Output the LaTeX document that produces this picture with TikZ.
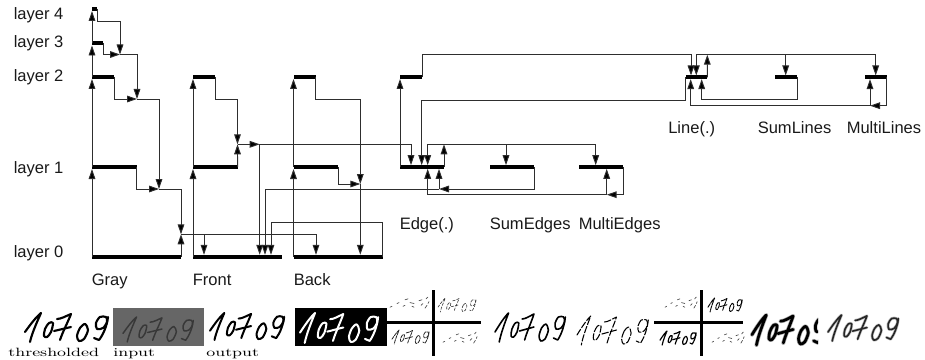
\documentclass[tikz,border=0pt]{standalone}
\usepackage{fontspec}
\newfontfamily\sansf{Liberation Sans}
\usetikzlibrary{arrows.meta}
\tikzset{
  barline/.style={fill=black,draw=none,inner sep=0pt,minimum height=3pt,anchor=west,outer sep=0pt},
  conn/.style={draw=black!82,line width=.72pt,line join=miter},
  arr/.style={conn,-{Triangle[length=7.5pt,width=5pt,fill=black]}},
  lab/.style={font=\sansf\fontsize{12.4}{14}\selectfont,anchor=base west,inner sep=0pt,text=black!90},
  capt/.style={font=\fontsize{9}{10}\selectfont,anchor=base west,inner sep=0pt,xscale=1.45,transform shape},
  crossline/.style={draw=black,line width=2.3pt},
}
\newcommand\handnum[5]{%
 \begin{scope}[shift={(#1,#2)},xscale=#3/85,yscale=#4/29,shift={(-5,-13)},line cap=round,line join=round,#5]
  \draw (5,32) .. controls (10,25) and (16,17) .. (21,13) .. controls (17,22) and (12,33) .. (10,42);
  \draw plot[smooth cycle] coordinates {(33,23)(29,23)(25,29)(24,36)(27,37)(31,32)};
  \draw (37,19) .. controls (41,19) and (46,16) .. (51,14) .. controls (48,22) and (43,31) .. (40,40);
  \draw (34,31) -- (51,27);
  \draw plot[smooth cycle] coordinates {(65,24)(60,28)(57,36)(59,41)(64,39)(68,30)};
  \draw plot[smooth cycle] coordinates {(86,17)(80,17)(76,23)(77,29)(83,28)(87,22)};
  \draw (88,17) .. controls (87,26) and (83,35) .. (79,40) -- (74,38);
 \end{scope}}
\newcommand\dashbits[4]{%
 \begin{scope}[shift={(#1,#2)},xscale=#3/40,yscale=#4/14,line cap=round,draw=black!70,line width=.5pt]
  \draw (0,11)--(2,10) (7,7)--(9,6) (13,10)--(15,9) (15,3)--(18,2) (20,6)--(24,7) (22,10)--(24,11)
        (29,4)--(32,3) (31,9)--(33,7) (36,2)--(38,0) (35,12)--(37,9) (38,7)--(39,5);
 \end{scope}}
\begin{document}
\begin{tikzpicture}[x=.75pt,y=-.75pt]
\useasboundingbox (0,0) rectangle (925,360);
% bars
\node[barline,minimum width=66.75pt] (g0) at (92,256.5) {};
\node[barline,minimum width=33.4pt] (g1) at (92,167) {};
\node[barline,minimum width=16.5pt] (g2) at (92,77) {};
\node[barline,minimum width=8.25pt] (g3) at (92,43.5) {};
\node[barline,minimum width=4pt] (g4) at (92,9) {};
\node[barline,minimum width=66.75pt] (f0) at (193,256.5) {};
\node[barline,minimum width=33.4pt] (f1) at (193,167) {};
\node[barline,minimum width=16.5pt] (f2) at (193,77) {};
\node[barline,minimum width=67pt] (b0) at (293.5,256.5) {};
\node[barline,minimum width=33.4pt] (b1) at (293.5,167) {};
\node[barline,minimum width=16.5pt] (b2) at (293.5,77) {};
\node[barline,minimum width=33pt] (e1) at (400,167) {};
\node[barline,minimum width=16.5pt] (e2) at (400,77) {};
\node[barline,minimum width=33pt] (se) at (490,167) {};
\node[barline,minimum width=33pt] (me) at (579.3,167) {};
\node[barline,minimum width=16.2pt] (l1) at (685.7,77.3) {};
\node[barline,minimum width=16.5pt] (sl) at (775,77.3) {};
\node[barline,minimum width=16.5pt] (ml) at (864.7,77.3) {};
% junctions
\coordinate (a4) at (120,21);
\coordinate (j3) at (120,54.5);
\coordinate (a3) at (137,54.5);
\coordinate (j2) at (137,99);
\coordinate (j1) at (159,189);
\coordinate (j0) at (181,234.3);
\coordinate (frontin) at (204,254.8);
\coordinate (backin) at (316,254.8);
\coordinate (jf) at (237.5,144.3);
\coordinate (cf) at (237.5,99);
\coordinate (k1) at (259.7,144.3);
\coordinate (k1in) at (259.7,254.8);
\coordinate (k2in) at (265,254.8);
\coordinate (k3in) at (271,254.8);
\coordinate (k3top) at (271,222.7);
\coordinate (jb) at (360.3,184);
\coordinate (jbtop) at (360.3,99);
\coordinate (jbin) at (360.3,254.8);
\coordinate (e1a) at (411,165.2);
\coordinate (e1b) at (421.7,165.2);
\coordinate (e1c) at (427.7,165.2);
\coordinate (e1d) at (427.7,168.8);
\coordinate (e1e) at (439,168.8);
\coordinate (jse) at (439,189);
\coordinate (jed) at (444,144.3);
\coordinate (sein) at (506,165.2);
\coordinate (mein) at (595.7,165.2);
\coordinate (jme) at (606.7,194.7);
\coordinate (mefb) at (606.7,168.8);
\coordinate (l1a) at (691,75.5);
\coordinate (l1b) at (696.3,75.5);
\coordinate (l1c) at (690.7,79.1);
\coordinate (l1d) at (701.7,79.1);
\coordinate (jl) at (707.3,54.7);
\coordinate (slin) at (785.7,75.5);
\coordinate (mlin) at (875.7,75.5);
\coordinate (jml) at (870,105.7);
\coordinate (mlfb) at (870,79.1);
\coordinate (slback) at (701.7,99.5);
\coordinate (e2l) at (691,54.7);
\coordinate (l1back) at (421.7,100);
% gray stack
\draw[arr] (g0.west) -- (g1.south west);
\draw[arr] (g1.west) -- (g2.south west);
\draw[arr] (g2.west) -- (g3.south west);
\draw[arr] (g3.west) -- (g4.south west);
\draw[arr] (g4.east) |- (a4) -- (j3);
\draw[arr] (g3.east) |- (j3);
\draw[arr] (j3) -- (a3) -- (j2);
\draw[arr] (g2.east) |- (j2);
\draw[arr] (j2) -| (j1);
\draw[arr] (g1.east) |- (j1);
\draw[arr] (j1) -| (j0);
\draw[arr] (g0.east) -- (j0);
\draw[arr] (j0) -| (backin);
\draw[arr] (j0 -| frontin) -- (frontin);
% front stack
\draw[arr] (f0.west) -- (f1.south west);
\draw[arr] (f1.west) -- (f2.south west);
\draw[arr] (f2.east) |- (cf) -- (jf);
\draw[arr] (f1.east) -- (jf);
\draw[arr] (jf) -- (k1);
\draw[arr] (k1) -- (k1in);
\draw[arr] (k1) -| (e1a);
% back stack
\draw[arr] (b0.west) -- (b1.south west);
\draw[arr] (b1.west) -- (b2.south west);
\draw[arr] (b2.east) |- (jbtop) -- (jb);
\draw[arr] (b1.east) |- (jb);
\draw[arr] (jb) -- (jbin);
\draw[arr] (b0.east) |- (k3top) -- (k3in);
% edge
\draw[arr] (e1.west) -- (e2.south west);
\draw[arr] (e2.east) |- (e2l) -- (l1a);
\draw[arr] (l1.west) |- (l1back) -- (e1b);
\draw[arr] (e1.east) -- (jed);
\draw[arr] (jed) -| (e1c);
\draw[arr] (jed) -| (mein);
\draw[arr] (jed -| sein) -- (sein);
\draw[arr] (se.east) |- (jse);
\draw[arr] (jse) -- (e1e);
\draw[arr] (jse) -| (k2in);
\draw[arr] (me.east) |- (jme);
\draw[arr] (jme) -- (mefb);
\draw[arr] (jme) -| (e1d);
% line
\draw[arr] (l1.east) -- (jl);
\draw[arr] (jl) -| (l1b);
\draw[arr] (jl) -| (mlin);
\draw[arr] (jl -| slin) -- (slin);
\draw[arr] (ml.east) |- (jml);
\draw[arr] (jml) -- (mlfb);
\draw[arr] (jml) -| (l1c);
\draw[arr] (sl.east) |- (slback) -- (l1d);
% labels
\node[lab] (t4) at (13.5,20) {layer 4};
\node[lab] (t3) at (13.5,48) {layer 3};
\node[lab] (t2) at (13.5,82) {layer 2};
\node[lab] (t1) at (13.5,173) {layer 1};
\node[lab] (t0) at (13.5,257) {layer 0};
\node[lab] (tg) at (91.5,285) {Gray};
\node[lab] (tf) at (192.5,285) {Front};
\node[lab] (tb) at (293.5,285) {Back};
\node[lab] (te) at (399.5,229) {Edge(.)};
\node[lab] (tse) at (489.5,229) {SumEdges};
\node[lab] (tme) at (578.5,229) {MultiEdges};
\node[lab] (tl) at (668,133) {Line(.)};
\node[lab] (tsl) at (757.5,133) {SumLines};
\node[lab] (tml) at (846.5,133) {MultiLines};
\node[capt] (c1) at (8,356) {thresholded};
\node[capt] (c2) at (113,356) {input};
\node[capt] (c3) at (206,356) {output};
% handwriting samples
\handnum{25}{313}{85}{29}{line width=1.6pt}
\fill[black!60] (112.7,308) rectangle (204,346);
\handnum{123}{317}{72}{25}{line width=1.1pt,draw=black!78}
\handnum{210}{313}{76}{27}{line width=1.5pt}
\fill[black] (295,307.7) rectangle (386.7,346);
\handnum{300}{313}{80}{30}{line width=1.5pt,draw=white}
% first cross
\draw[crossline] (387,322.7) -- (481,322.7);
\draw[crossline] (433.3,290) -- (433.3,355.7);
\dashbits{390}{297}{40}{13}
\dashbits{443}{332}{35}{13}
\handnum{438}{298}{39}{14}{line width=.45pt,draw=black!80,dash pattern=on 2pt off 1.2pt}
\handnum{392}{330}{38}{14}{line width=.6pt,draw=black!85,dash pattern=on 2.5pt off .8pt}
% thin samples
\handnum{495}{313}{72}{29}{line width=1.2pt}
\handnum{577}{316}{73}{29}{line width=.8pt,dash pattern=on 5pt off 1.5pt}
% second cross
\draw[crossline] (654,322.7) -- (743,322.7);
\draw[crossline] (701.3,290) -- (701.3,355.7);
\dashbits{665}{297}{33}{13}
\dashbits{712}{332}{33}{13}
\handnum{708}{298}{35}{14}{line width=.7pt,dash pattern=on 3pt off .7pt}
\handnum{660}{331}{37}{14}{line width=.9pt,dash pattern=on 3pt off .4pt}
% blurred samples
\begin{scope}
 \clip (750,305) rectangle (818,350);
 \handnum{752}{315}{76}{30}{line width=3pt,draw=black!35}
 \handnum{752}{315}{76}{30}{line width=2pt}
\end{scope}
\handnum{828}{315}{72}{26}{line width=2.2pt,draw=black!25}
\handnum{828}{315}{72}{26}{line width=1.2pt,draw=black!85}
\end{tikzpicture}
\end{document}
